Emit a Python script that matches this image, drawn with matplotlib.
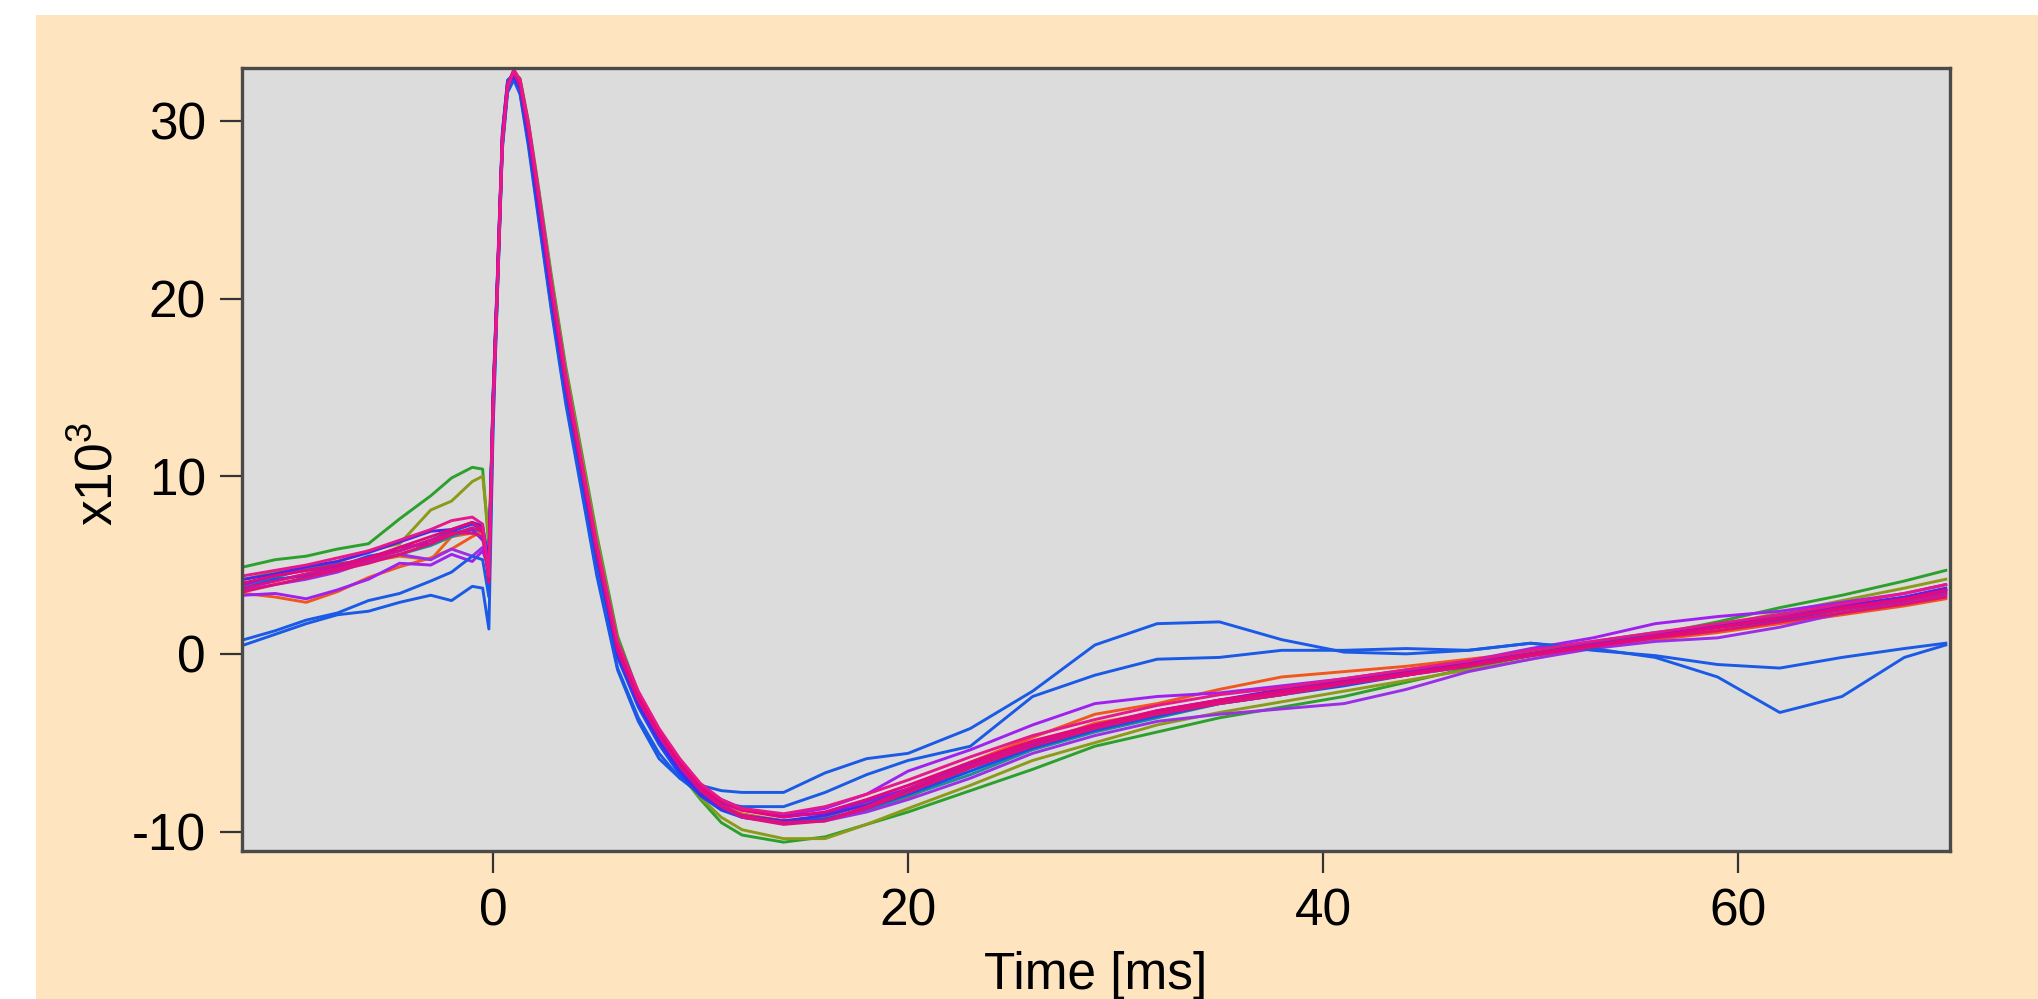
import matplotlib.pyplot as plt
import matplotlib.patches as patches

plt.rcParams['font.family'] = ['Liberation Sans', 'DejaVu Sans']
plt.rcParams['mathtext.fontset'] = 'custom'
plt.rcParams['mathtext.rm'] = 'Liberation Sans'
plt.rcParams['axes.unicode_minus'] = False

# Time axis shared by all sweeps [ms]
t_ms = [-12, -10.5, -9, -7.5, -6, -4.5, -3, -2, -1, -0.5, -0.2, 0.0, 0.2, 0.45, 0.7,
        1.0, 1.3, 1.7, 2.2, 2.8, 3.5, 4.2, 5.0, 6.0, 7.0, 8.0, 9.0, 10.0, 11.0, 12.0,
        14.0, 16.0, 18.0, 20.0, 23.0, 26.0, 29.0, 32.0, 35.0, 38.0, 41.0, 44.0, 47.0,
        50.0, 53.0, 56.0, 59.0, 62.0, 65.0, 68.0, 70.0]

# Sweeps (x10^3)
green_hi = [4.9, 5.3, 5.5, 5.9, 6.2, 7.6, 8.9, 9.9, 10.5, 10.4, 6.0,
            13.5, 20.0, 28.6, 31.8, 32.7, 32.4, 30.0, 26.2, 21.4, 16.2, 11.8, 6.7, 1.0, -2.2,
            -4.6, -6.7, -8.2, -9.5, -10.2, -10.6, -10.3, -9.6, -8.9, -7.7, -6.5, -5.2, -4.4,
            -3.6, -3.0, -2.4, -1.6, -0.8, -0.1, 0.5, 1.1, 1.8, 2.6, 3.3, 4.1, 4.7]
olive = [4.2, 4.6, 4.9, 5.2, 5.8, 6.2, 8.1, 8.6, 9.7, 10.0, 6.5,
         13.8, 20.2, 28.8, 31.9, 32.7, 32.3, 29.9, 26.0, 21.2, 16.0, 11.6, 6.5, 0.8, -2.4,
         -4.8, -6.8, -8.1, -9.2, -9.9, -10.4, -10.4, -9.6, -8.7, -7.4, -6.0, -5.0, -4.0,
         -3.3, -2.7, -2.1, -1.5, -0.9, -0.3, 0.4, 0.9, 1.6, 2.3, 3.0, 3.7, 4.2]
orange_lo = [3.4, 3.2, 2.9, 3.5, 4.3, 4.9, 5.4, 5.9, 6.6, 6.9, 4.5,
             14.2, 20.6, 29.1, 32.1, 32.8, 32.2, 29.7, 25.7, 20.8, 15.5, 11.0, 5.9, 0.4, -2.5,
             -4.6, -6.4, -7.8, -8.6, -9.1, -9.5, -9.2, -8.4, -7.6, -6.1, -4.7, -3.4, -2.8,
             -2.0, -1.3, -1.0, -0.7, -0.3, 0.1, 0.4, 0.8, 1.2, 1.7, 2.2, 2.7, 3.1]
orange_mid = [3.8, 4.1, 4.5, 5.0, 5.2, 5.5, 5.3, 6.6, 6.8, 7.1, 4.6,
              14.0, 20.4, 28.9, 32.0, 32.8, 32.3, 29.8, 25.9, 20.9, 15.6, 11.1, 6.0, 0.5, -2.5,
              -4.5, -6.2, -7.6, -8.5, -9.0, -9.4, -9.3, -8.8, -8.1, -6.4, -5.1, -3.9, -3.3,
              -2.6, -2.2, -1.6, -1.0, -0.4, 0.1, 0.5, 0.9, 1.4, 1.8, 2.4, 2.9, 3.4]
teal = [3.9, 4.3, 4.8, 5.1, 5.2, 5.6, 6.1, 6.6, 7.0, 6.9, 4.7,
        14.1, 20.5, 29.0, 32.0, 32.8, 32.2, 29.7, 25.7, 20.8, 15.5, 11.0, 5.9, 0.3, -2.5,
        -4.6, -6.4, -7.7, -8.6, -9.1, -9.4, -9.3, -8.8, -8.0, -6.8, -5.4, -4.4, -3.6,
        -2.8, -2.3, -1.6, -1.0, -0.5, 0.2, 0.7, 1.2, 1.6, 2.1, 2.6, 3.1, 3.6]
purple_hi = [3.3, 3.4, 3.1, 3.6, 4.2, 5.1, 5.0, 5.6, 5.2, 5.8, 4.8,
             14.3, 20.8, 29.3, 32.2, 32.7, 32.0, 29.4, 25.4, 20.5, 15.2, 10.8, 5.6, 0.1, -2.8,
             -5.0, -6.6, -7.7, -8.4, -8.8, -9.1, -8.7, -7.9, -6.6, -5.4, -4.0, -2.8, -2.4,
             -2.2, -1.8, -1.4, -0.9, -0.4, 0.3, 0.9, 1.7, 2.1, 2.4, 2.9, 3.4, 3.9]
purple_lo = [3.6, 3.9, 4.2, 4.6, 5.2, 5.6, 5.3, 5.9, 5.5, 6.0, 5.0,
             14.1, 20.5, 29.0, 32.0, 32.7, 32.1, 29.6, 25.6, 20.7, 15.4, 11.0, 5.8, 0.2, -2.6,
             -4.7, -6.5, -7.8, -8.7, -9.2, -9.5, -9.4, -8.9, -8.2, -7.0, -5.6, -4.6, -3.8,
             -3.4, -3.1, -2.8, -2.0, -1.0, -0.3, 0.3, 0.7, 0.9, 1.5, 2.3, 2.9, 3.3]
violet = [3.9, 4.4, 4.7, 4.9, 5.3, 6.0, 6.2, 6.8, 7.0, 6.4, 5.4,
          13.8, 20.3, 28.8, 31.9, 32.6, 32.1, 29.7, 25.8, 20.8, 15.5, 11.1, 5.9, 0.4, -2.4,
          -4.4, -6.1, -7.4, -8.2, -8.7, -9.1, -9.0, -8.3, -7.6, -6.2, -5.1, -4.2, -3.3,
          -2.7, -2.2, -1.6, -1.2, -0.7, -0.1, 0.5, 1.0, 1.5, 2.0, 2.6, 3.1, 3.6]
blue_mid = [3.7, 4.2, 4.4, 4.9, 5.5, 5.8, 6.4, 6.9, 7.3, 7.0, 4.9,
            14.6, 21.0, 29.4, 32.3, 32.6, 31.8, 29.0, 24.9, 20.0, 14.8, 10.4, 5.3, -0.2, -3.0,
            -5.1, -6.8, -8.0, -8.8, -9.2, -9.5, -9.3, -8.7, -7.9, -6.6, -5.3, -4.3, -3.5,
            -2.8, -2.3, -1.8, -1.2, -0.6, 0.0, 0.6, 1.1, 1.5, 1.9, 2.5, 3.0, 3.5]
indigo = [4.2, 4.5, 4.9, 5.2, 5.7, 6.3, 6.9, 7.0, 7.4, 7.2, 5.2,
          14.4, 20.8, 29.2, 32.1, 32.5, 31.9, 29.2, 25.1, 20.2, 15.0, 10.6, 5.5, 0.0, -2.8,
          -4.9, -6.6, -7.9, -8.7, -9.1, -9.4, -9.1, -8.5, -7.7, -6.4, -5.2, -4.1, -3.2,
          -2.6, -2.0, -1.5, -1.0, -0.5, 0.0, 0.5, 1.0, 1.6, 2.2, 2.7, 3.2, 3.7]
blue_out_a = [0.5, 1.1, 1.7, 2.2, 2.4, 2.9, 3.3, 3.0, 3.8, 3.7, 1.4,
              12.5, 19.8, 28.4, 31.6, 32.3, 31.5, 28.6, 24.4, 19.4, 14.1, 9.6, 4.4, -0.9, -3.8,
              -5.9, -7.0, -7.4, -7.7, -7.8, -7.8, -6.7, -5.9, -5.6, -4.2, -2.1, 0.5, 1.7,
              1.8, 0.8, 0.1, 0.0, 0.2, 0.6, 0.3, -0.2, -1.3, -3.3, -2.4, -0.2, 0.5]
blue_out_b = [0.8, 1.3, 1.9, 2.3, 3.0, 3.4, 4.1, 4.6, 5.5, 5.3, 3.2,
              13.0, 20.0, 28.6, 31.7, 32.4, 31.6, 28.8, 24.6, 19.6, 14.3, 9.8, 4.6, -0.8, -3.6,
              -5.6, -7.0, -7.9, -8.4, -8.6, -8.6, -7.8, -6.8, -6.0, -5.2, -2.4, -1.2, -0.3,
              -0.2, 0.2, 0.2, 0.3, 0.2, 0.6, 0.2, -0.1, -0.6, -0.8, -0.2, 0.3, 0.6]
magenta_a = [4.0, 4.4, 4.7, 5.0, 5.4, 6.0, 6.6, 7.0, 7.4, 7.0, 4.2,
             14.0, 20.5, 29.0, 32.0, 32.8, 32.2, 29.6, 25.6, 20.6, 15.3, 10.9, 5.8, 0.3, -2.4,
             -4.4, -6.2, -7.5, -8.3, -8.8, -9.2, -8.9, -8.2, -7.4, -6.1, -4.9, -4.0, -3.2,
             -2.6, -2.1, -1.6, -1.1, -0.6, 0.0, 0.5, 1.0, 1.5, 2.0, 2.6, 3.1, 3.6]
magenta_b = [3.5, 3.9, 4.3, 4.7, 5.1, 5.6, 6.2, 6.7, 7.1, 6.9, 4.0,
             13.9, 20.4, 28.9, 32.0, 32.9, 32.3, 29.8, 25.8, 20.8, 15.5, 11.1, 6.0, 0.5, -2.3,
             -4.3, -6.1, -7.5, -8.5, -9.1, -9.5, -9.4, -8.7, -7.8, -6.4, -5.2, -4.2, -3.4,
             -2.8, -2.3, -1.7, -1.2, -0.7, -0.1, 0.4, 0.9, 1.3, 1.8, 2.3, 2.8, 3.2]
magenta_c = [4.4, 4.7, 5.0, 5.4, 5.8, 6.4, 7.0, 7.5, 7.7, 7.3, 4.4,
             13.7, 20.2, 28.7, 31.9, 32.8, 32.3, 29.9, 26.0, 21.0, 15.8, 11.3, 6.2, 0.7, -2.1,
             -4.2, -5.9, -7.3, -8.2, -8.7, -9.0, -8.6, -7.9, -7.1, -5.8, -4.6, -3.7, -2.9,
             -2.3, -1.9, -1.4, -0.9, -0.4, 0.2, 0.7, 1.2, 1.7, 2.2, 2.8, 3.4, 3.9]
magenta_d = [3.7, 4.1, 4.5, 4.8, 5.3, 5.8, 6.4, 6.8, 6.8, 6.6, 4.3,
             14.2, 20.6, 29.1, 32.1, 32.7, 32.0, 29.5, 25.5, 20.5, 15.2, 10.8, 5.7, 0.2, -2.6,
             -4.6, -6.3, -7.7, -8.6, -9.2, -9.6, -9.4, -8.6, -7.6, -6.3, -5.0, -4.1, -3.3,
             -2.7, -2.2, -1.7, -1.2, -0.6, -0.1, 0.4, 1.0, 1.5, 2.0, 2.5, 3.0, 3.4]

x_ticks = [0, 20, 40, 60]
y_ticks = [-10, 0, 10, 20, 30]

sweeps = [
    (green_hi, '#2ca02c'),
    (olive, '#8c9a1a'),
    (orange_lo, '#f0561e'),
    (orange_mid, '#e8641a'),
    (teal, '#1f8c96'),
    (purple_lo, '#9b2ee6'),
    (purple_hi, '#a020f0'),
    (blue_out_a, '#1a5ae6'),
    (blue_out_b, '#1a5ae6'),
    (blue_mid, '#1450f0'),
    (violet, '#7a22f0'),
    (indigo, '#4b28e8'),
    (magenta_d, '#d8108a'),
    (magenta_b, '#e0107a'),
    (magenta_a, '#e4087c'),
    (magenta_c, '#e8188c'),
]

fig = plt.figure(figsize=(20.38, 9.99), dpi=100, facecolor='white')
# peach panel behind the plot
panel = patches.Rectangle((36 / 2038, 0), 1 - 36 / 2038, 984 / 999,
                          transform=fig.transFigure, facecolor='#fee5c0',
                          edgecolor='none', zorder=-10)
fig.add_artist(panel)

ax = fig.add_axes([0.1187, 0.1481, 0.8381, 0.7842])
ax.set_zorder(1)
ax.set_facecolor('#dcdcdc')

for vals, col in sweeps:
    ax.plot(t_ms, vals, color=col, lw=2.1, solid_joinstyle='round')

ax.set_xlim(-12.1, 70.2)
ax.set_ylim(-11.1, 33.0)
ax.set_xticks(x_ticks)
ax.set_yticks(y_ticks)
ax.tick_params(direction='out', length=16, width=1.6, color='#333333',
               labelsize=37, pad=10)
for s in ax.spines.values():
    s.set_color('#4a4a4a')
    s.set_linewidth(2.4)

ax.set_xlabel('Time [ms]', fontsize=37)
ax.xaxis.set_label_coords(0.5, -0.128)
fig.text(99 / 2038, 1 - 474 / 999, r'x10$^\mathregular{3}$', rotation=90,
         ha='center', va='center', fontsize=37, zorder=2)

fig.savefig('out.png', dpi=100, facecolor=fig.get_facecolor())
